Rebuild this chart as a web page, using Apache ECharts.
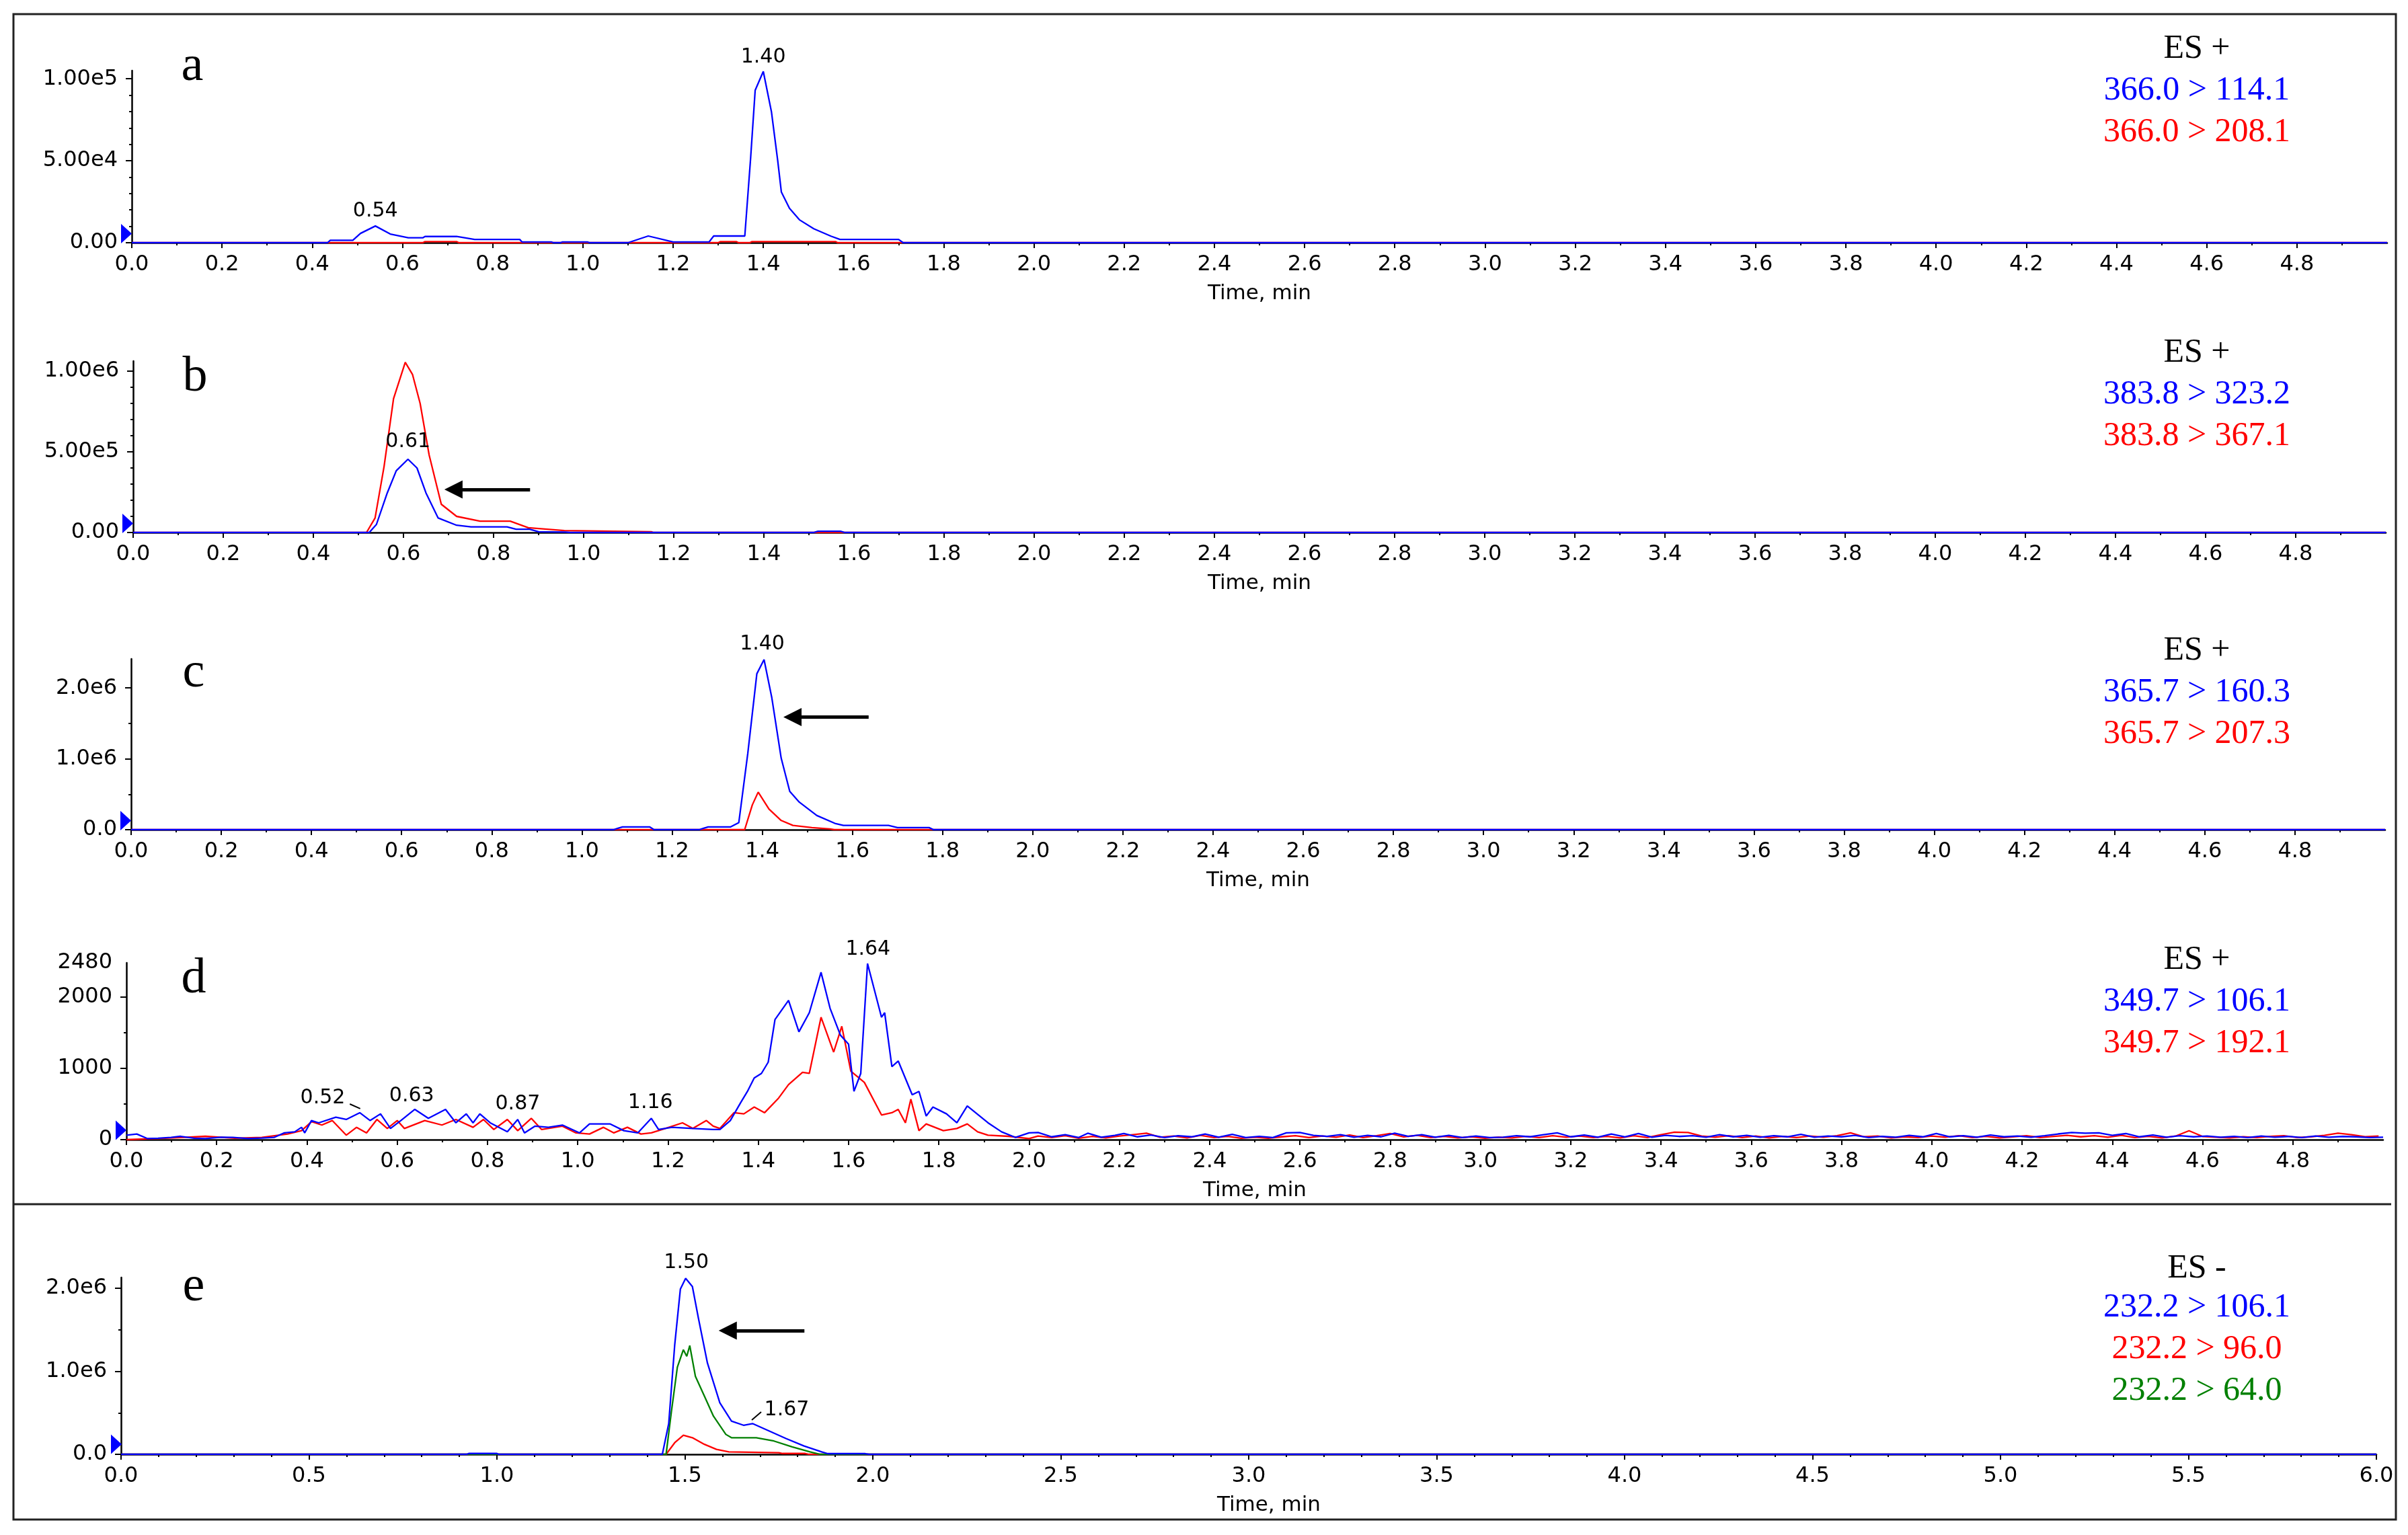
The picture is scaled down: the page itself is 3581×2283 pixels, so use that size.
<!DOCTYPE html>
<html><head><meta charset="utf-8">
<script src="https://cdn.jsdelivr.net/npm/echarts@6/dist/echarts.min.js"></script>
<style>html,body{margin:0;padding:0;background:#fff}#c{width:3581px;height:2283px}</style>
</head><body><div id="c"></div>
<script>
// ---------------- DATA ----------------
const BLUE = '#0000ff', RED = '#ff0000', GREEN = '#008000';

// Panel a : 366.0 > 114.1 (blue), 366.0 > 208.1 (red)
const aBlue = [[0,0],[0.434,0],[0.44,1500],[0.49,1500],[0.507,5700],[0.54,10200],[0.573,5300],[0.613,3000],[0.645,3000],[0.65,3800],[0.72,3800],[0.76,2000],[0.86,2000],[0.865,500],[0.93,500],[0.935,0],[0.95,0],[0.955,500],[1.01,500],[1.015,0],[1.10,0],[1.145,4100],[1.20,500],[1.28,500],[1.29,4100],[1.359,4100],[1.372,52000],[1.382,93000],[1.40,104500],[1.418,80000],[1.432,50000],[1.44,31000],[1.458,21000],[1.48,14000],[1.512,8500],[1.55,4000],[1.57,2000],[1.70,2000],[1.71,0],[5.0,0]];
const aRed = [[0,0],[0.645,0],[0.65,700],[0.72,700],[0.725,0],[1.30,0],[1.305,700],[1.34,700],[1.345,0],[1.37,0],[1.375,700],[1.56,700],[1.565,0],[5.0,0]];

// Panel b : 383.8 > 323.2 (blue), 383.8 > 367.1 (red)
const bBlue = [[0,0],[0.524,0],[0.54,50000],[0.564,245000],[0.584,383000],[0.61,454000],[0.63,400000],[0.65,245000],[0.677,90000],[0.718,45000],[0.75,35000],[0.83,35000],[0.85,20000],[0.88,20000],[0.90,5000],[0.96,3000],[0.97,0],[1.51,0],[1.52,8000],[1.57,8000],[1.58,0],[5.0,0]];
const bRed = [[0,0],[0.518,0],[0.537,90000],[0.557,410000],[0.578,830000],[0.604,1055000],[0.62,980000],[0.637,800000],[0.657,480000],[0.684,175000],[0.718,100000],[0.77,70000],[0.837,70000],[0.877,30000],[0.957,12000],[1.15,5000],[1.155,0],[5.0,0]];

// Panel c : 365.7 > 160.3 (blue), 365.7 > 207.3 (red)
const cBlue = [[0,0],[1.07,0],[1.08,20000],[1.09,40000],[1.15,40000],[1.16,0],[1.26,0],[1.27,20000],[1.28,40000],[1.33,40000],[1.348,100000],[1.368,1080000],[1.388,2200000],[1.404,2400000],[1.421,1870000],[1.442,1010000],[1.461,540000],[1.482,390000],[1.521,200000],[1.561,90000],[1.58,60000],[1.68,60000],[1.70,30000],[1.77,30000],[1.78,0],[5.0,0]];
const cRed = [[0,0],[1.361,0],[1.378,350000],[1.391,530000],[1.415,290000],[1.442,130000],[1.468,60000],[1.51,30000],[1.55,10000],[1.56,0],[5.0,0]];

// Panel d : 349.7 > 106.1 (blue), 349.7 > 192.1 (red)
const dBlue = [[0,63],[0.023,79],[0.046,16],[0.07,20],[0.099,31],[0.12,47],[0.15,20],[0.175,16],[0.21,35],[0.236,31],[0.27,15],[0.30,22],[0.327,31],[0.35,95],[0.373,110],[0.388,173],[0.395,95],[0.41,268],[0.426,236],[0.464,315],[0.487,283],[0.517,378],[0.54,268],[0.563,362],[0.585,157],[0.608,268],[0.639,425],[0.669,299],[0.707,425],[0.73,236],[0.753,362],[0.768,236],[0.783,362],[0.806,236],[0.844,110],[0.867,283],[0.882,95],[0.905,189],[0.935,173],[0.966,205],[1.004,95],[1.026,220],[1.072,220],[1.102,126],[1.133,95],[1.163,299],[1.179,142],[1.209,173],[1.255,157],[1.30,142],[1.315,142],[1.338,268],[1.361,520],[1.376,677],[1.391,866],[1.407,929],[1.422,1087],[1.437,1685],[1.467,1953],[1.49,1512],[1.513,1780],[1.539,2347],[1.559,1843],[1.582,1465],[1.60,1339],[1.612,677],[1.627,929],[1.642,2470],[1.673,1717],[1.68,1780],[1.696,1024],[1.71,1103],[1.741,630],[1.756,677],[1.772,331],[1.787,457],[1.817,362],[1.84,236],[1.863,472],[1.909,236],[1.939,110],[1.97,31],[2.0,95],
[2.02,100],[2.05,40],[2.08,70],[2.11,30],[2.13,90],[2.16,35],[2.19,60],[2.21,85],[2.24,40],[2.27,65],[2.30,30],[2.33,55],[2.36,40],[2.39,80],[2.42,35],[2.45,75],[2.48,30],[2.51,45],[2.54,30],[2.57,95],[2.60,100],[2.63,60],[2.66,45],[2.69,70],[2.72,35],[2.75,60],[2.78,40],[2.81,90],[2.84,45],[2.87,70],[2.90,35],[2.93,60],[2.96,30],[2.99,50],[3.02,30],[3.05,35],[3.08,55],[3.11,40],[3.14,70],[3.17,95],[3.20,40],[3.23,65],[3.26,35],[3.29,80],[3.32,40],[3.35,85],[3.38,35],[3.41,60],[3.44,45],[3.47,55],[3.50,35],[3.53,70],[3.56,40],[3.59,60],[3.62,35],[3.65,55],[3.68,40],[3.71,75],[3.74,35],[3.77,50],[3.80,40],[3.83,60],[3.86,30],[3.89,45],[3.92,35],[3.95,60],[3.98,40],[4.01,85],[4.04,40],[4.07,55],[4.10,35],[4.13,65],[4.16,40],[4.19,50],[4.22,35],[4.25,55],[4.28,80],[4.31,100],[4.34,90],[4.37,95],[4.40,60],[4.43,85],[4.46,40],[4.49,65],[4.52,35],[4.55,55],[4.58,40],[4.61,50],[4.64,35],[4.67,45],[4.70,30],[4.73,50],[4.76,35],[4.79,45],[4.82,30],[4.85,50],[4.88,35],[4.91,45],[4.94,40],[4.97,30],[5.0,35]];
const dRed = [[0,0],[0.068,16],[0.12,30],[0.175,47],[0.24,20],[0.30,31],[0.357,79],[0.388,126],[0.41,252],[0.433,205],[0.456,268],[0.487,63],[0.51,173],[0.532,95],[0.555,283],[0.578,157],[0.60,268],[0.616,157],[0.661,268],[0.699,205],[0.73,283],[0.768,173],[0.791,283],[0.814,142],[0.844,283],[0.867,126],[0.897,299],[0.92,142],[0.966,189],[0.996,95],[1.026,79],[1.057,173],[1.08,95],[1.11,173],[1.14,79],[1.163,95],[1.194,157],[1.232,236],[1.255,157],[1.285,268],[1.30,189],[1.315,157],[1.346,378],[1.368,362],[1.391,457],[1.414,378],[1.445,583],[1.467,772],[1.498,945],[1.513,929],[1.539,1717],[1.567,1228],[1.585,1590],[1.605,961],[1.635,803],[1.673,346],[1.696,378],[1.71,425],[1.726,236],[1.738,567],[1.756,126],[1.772,220],[1.81,126],[1.84,157],[1.863,220],[1.886,110],[1.909,63],[1.954,47],[2.0,16],
[2.02,50],[2.05,30],[2.08,55],[2.11,20],[2.14,45],[2.17,25],[2.20,50],[2.23,70],[2.26,90],[2.29,35],[2.32,50],[2.35,25],[2.38,60],[2.41,30],[2.44,45],[2.47,20],[2.50,35],[2.53,20],[2.56,40],[2.59,55],[2.62,30],[2.65,50],[2.68,35],[2.71,65],[2.74,30],[2.77,55],[2.80,85],[2.83,40],[2.86,60],[2.89,30],[2.92,45],[2.95,25],[2.98,40],[3.01,20],[3.04,35],[3.07,25],[3.10,45],[3.13,30],[3.16,55],[3.19,35],[3.22,50],[3.25,30],[3.28,45],[3.31,25],[3.34,55],[3.37,30],[3.40,70],[3.43,105],[3.46,100],[3.49,50],[3.52,35],[3.55,55],[3.58,30],[3.61,50],[3.64,25],[3.67,45],[3.70,30],[3.73,50],[3.76,35],[3.79,55],[3.82,95],[3.85,40],[3.88,50],[3.91,25],[3.94,40],[3.97,30],[4.00,50],[4.03,35],[4.06,55],[4.09,30],[4.12,45],[4.15,25],[4.18,40],[4.21,55],[4.24,30],[4.27,45],[4.30,60],[4.33,40],[4.36,55],[4.39,35],[4.42,60],[4.45,30],[4.48,45],[4.51,25],[4.54,50],[4.57,125],[4.60,45],[4.63,35],[4.66,25],[4.69,40],[4.72,30],[4.75,45],[4.78,55],[4.81,30],[4.84,40],[4.87,60],[4.90,90],[4.93,70],[4.96,40],[4.99,50]];

// Panel e : 232.2 > 106.1 (blue), 232.2 > 96.0 (red), 232.2 > 64.0 (green)
const eBlue = [[0,0],[0.92,0],[0.925,10000],[1.0,10000],[1.005,0],[1.44,0],[1.457,370000],[1.473,1320000],[1.488,1990000],[1.502,2120000],[1.52,2020000],[1.536,1640000],[1.56,1100000],[1.593,620000],[1.624,400000],[1.656,350000],[1.68,370000],[1.72,290000],[1.769,190000],[1.817,100000],[1.864,30000],[1.88,8000],[1.98,8000],[1.99,0],[6.0,0]];
const eGreen = [[0,0],[1.45,0],[1.464,510000],[1.48,1050000],[1.496,1260000],[1.505,1180000],[1.513,1310000],[1.528,940000],[1.552,700000],[1.576,460000],[1.609,240000],[1.624,200000],[1.69,200000],[1.737,160000],[1.785,90000],[1.833,30000],[1.86,0],[6.0,0]];
const eRed = [[0,0],[1.45,0],[1.473,140000],[1.496,230000],[1.52,200000],[1.552,120000],[1.584,60000],[1.617,30000],[1.75,20000],[1.76,10000],[1.82,10000],[1.83,0],[6.0,0]];

// Tick labels
const xTicks5 = [0,0.2,0.4,0.6,0.8,1.0,1.2,1.4,1.6,1.8,2.0,2.2,2.4,2.6,2.8,3.0,3.2,3.4,3.6,3.8,4.0,4.2,4.4,4.6,4.8];
const xTicks6 = [0,0.5,1.0,1.5,2.0,2.5,3.0,3.5,4.0,4.5,5.0,5.5,6.0];
const aYTicks = [[0,'0.00'],[50000,'5.00e4'],[100000,'1.00e5']];
const bYTicks = [[0,'0.00'],[500000,'5.00e5'],[1000000,'1.00e6']];
const cYTicks = [[0,'0.0'],[1000000,'1.0e6'],[2000000,'2.0e6']];
const dYTicks = [[0,'0'],[1000,'1000'],[2000,'2000'],[2480,'2480']];
const eYTicks = [[0,'0.0'],[1000000,'1.0e6'],[2000000,'2.0e6']];

// Peak annotations: [time, intensity, text]
const aPeaks = [[1.40,105000,'1.40'],[0.54,10000,'0.54']];
const bPeaks = [[0.61,562500,'0.61']];
const cPeaks = [[1.40,2410000,'1.40']];
const dPeaks = [[1.643,2480,'1.64'],[0.435,585,'0.52'],[0.632,613,'0.63'],[0.867,500,'0.87'],[1.161,519,'1.16']];
const ePeaks = [[1.504,2130000,'1.50'],[1.771,534000,'1.67']];

// Channel legends
const aLegend = ['ES +','366.0 > 114.1','366.0 > 208.1'];
const bLegend = ['ES +','383.8 > 323.2','383.8 > 367.1'];
const cLegend = ['ES +','365.7 > 160.3','365.7 > 207.3'];
const dLegend = ['ES +','349.7 > 106.1','349.7 > 192.1'];
const eLegend = ['ES -','232.2 > 106.1','232.2 > 96.0','232.2 > 64.0'];

// ---------------- BUILD ----------------
function range(a, b, step, skipEvery) {
  const out = [];
  for (let k = 0; a + k * step <= b + 1e-9; k++) {
    if (skipEvery && k % skipEvery === 0) continue;
    out.push(+(a + k * step).toFixed(6));
  }
  return out;
}

const panels = [
  {letter:'a', left:196, top:105, width:3354, height:256, xMax:5, xTicks:xTicks5, xMinor:range(0,4.9,0.1,2),
   yMax:105000, yTicks:aYTicks, yMinor:range(0,90000,10000,5), series:[[aRed,RED],[aBlue,BLUE]], peaks:aPeaks,
   peakOff:[[0,-20],[0,-22]], legend:aLegend, legendColors:['#000',BLUE,RED], legendY:[73,135,197], letterPos:[286,100],
   tri:[-8,-13.5], arrow:null, nameShift:0},
  {letter:'b', left:198, top:537, width:3350, height:255, xMax:5, xTicks:xTicks5, xMinor:range(0,4.9,0.1,2),
   yMax:1062500, yTicks:bYTicks, yMinor:range(0,900000,100000,5), series:[[bRed,RED],[bBlue,BLUE]], peaks:bPeaks,
   peakOff:[[0,0]], legend:bLegend, legendColors:['#000',BLUE,RED], legendY:[525,587,649], letterPos:[290,562],
   tri:[-8,-13.5], arrow:[0.881,0.711,267000], nameShift:0},
  {letter:'c', left:195, top:980, width:3352, height:254, xMax:5, xTicks:xTicks5, xMinor:range(0,4.9,0.1,2),
   yMax:2410000, yTicks:cYTicks, yMinor:[500000,1500000], series:[[cRed,RED],[cBlue,BLUE]], peaks:cPeaks,
   peakOff:[[0,-22]], legend:cLegend, legendColors:['#000',BLUE,RED], legendY:[968,1030,1092], letterPos:[288,1002],
   tri:[-8,-13.5], arrow:[1.636,1.467,1590000], nameShift:0},
  {letter:'d', left:188, top:1432, width:3356, height:263, xMax:5, xTicks:xTicks5, xMinor:range(0,4.9,0.1,2),
   yMax:2480, yTicks:dYTicks, yMinor:[500,1500], series:[[dRed,RED],[dBlue,BLUE]], peaks:dPeaks,
   peakOff:[[0,-20],[0,0],[0,0],[0,0],[0,0]], legend:dLegend, legendColors:['#000',BLUE,RED], legendY:[1428,1490,1552], letterPos:[288,1457],
   tri:[-8,-14], arrow:null, leader:[[0.495,500],[0.518,435]], nameShift:0},
  {letter:'e', left:180, top:1900, width:3354, height:263, xMax:6, xTicks:xTicks6, xMinor:range(0,6,0.1,5),
   yMax:2130000, yTicks:eYTicks, yMinor:[500000,1500000], series:[[eRed,RED],[eGreen,GREEN],[eBlue,BLUE]], peaks:ePeaks,
   peakOff:[[0,-22],[0,0]], legend:eLegend, legendColors:['#000',BLUE,RED,GREEN], legendY:[1887,1945,2007,2069], letterPos:[288,1915],
   tri:[-7,-15], arrow:[1.818,1.614,1490000], leader:[[1.678,413000],[1.703,510000]], nameShift:60}
];

const grids = [], xAxes = [], yAxes = [], series = [], graphics = [];
const tickFont = 'DejaVu Sans';

panels.forEach((p, i) => {
  grids.push({left:p.left, top:p.top, width:p.width, height:p.height});
  const yMap = {}; p.yTicks.forEach(t => yMap[t[0]] = t[1]);
  const yMajorTickVals = p.yTicks.map(t => t[0]).filter(v => v < p.yMax);
  // main x axis
  xAxes.push({type:'value', gridIndex:i, min:0, max:p.xMax, position:'bottom',
    axisLine:{show:true, onZero:false, lineStyle:{color:'#000', width:2.5}},
    axisTick:{show:true, customValues:p.xTicks, length:8, lineStyle:{color:'#000', width:2}},
    axisLabel:{show:true, customValues:p.xTicks, formatter:v => v.toFixed(1), margin:17, color:'#000', fontFamily:tickFont, fontSize:32},
    splitLine:{show:false},
    name:'Time, min', nameLocation:'middle', nameGap:60,
    nameTextStyle:{color:'#000', fontFamily:tickFont, fontSize:31, padding:[0,0,0,p.nameShift]}});
  // minor x ticks
  xAxes.push({type:'value', gridIndex:i, min:0, max:p.xMax, position:'bottom',
    axisLine:{show:false, onZero:false},
    axisTick:{show:true, customValues:p.xMinor, length:4, lineStyle:{color:'#000', width:2}},
    axisLabel:{show:false}, splitLine:{show:false}});
  yAxes.push({type:'value', gridIndex:i, min:0, max:p.yMax, position:'left',
    axisLine:{show:true, onZero:false, lineStyle:{color:'#000', width:2.5}},
    axisTick:{show:true, customValues:yMajorTickVals, length:9, lineStyle:{color:'#000', width:2}},
    axisLabel:{show:true, customValues:p.yTicks.map(t => t[0]), formatter:v => (yMap[v] !== undefined ? yMap[v] : ''), margin:21, color:'#000', fontFamily:tickFont, fontSize:32},
    splitLine:{show:false}});
  yAxes.push({type:'value', gridIndex:i, min:0, max:p.yMax, position:'left',
    axisLine:{show:false, onZero:false},
    axisTick:{show:true, customValues:p.yMinor, length:4, lineStyle:{color:'#000', width:2}},
    axisLabel:{show:false}, splitLine:{show:false}});

  p.series.forEach((s, si) => {
    const isLast = si === p.series.length - 1;
    const ser = {type:'line', xAxisIndex:2*i, yAxisIndex:2*i, data:s[0], showSymbol:false, symbol:'none',
      lineStyle:{color:s[1], width:2.3}, itemStyle:{color:s[1]}, animation:false, silent:true, z:2+si};
    if (isLast) {
      const mp = p.peaks.map((pk, k) => ({coord:[pk[0], pk[1]],
        label:{show:true, formatter:pk[2], offset:p.peakOff[k], position:'inside', color:'#000', fontFamily:tickFont, fontSize:30}}));
      mp.push({coord:[0,0], symbol:'path://M0 0L16 14.5L0 29Z', symbolSize:[16,29], symbolOffset:p.tri,
        itemStyle:{color:BLUE}, label:{show:false}});
      ser.markPoint = {silent:true, animation:false, symbol:'rect', symbolSize:1,
        itemStyle:{color:'rgba(0,0,0,0)'}, data:mp};
      if (p.arrow) {
        ser.markLine = {silent:true, animation:false, symbol:['none','triangle'], symbolSize:[27,27],
          label:{show:false}, lineStyle:{color:'#000', width:5, type:'solid'},
          data:[[{coord:[p.arrow[0], p.arrow[2]]},{coord:[p.arrow[1], p.arrow[2]]}]]};
      }
    }
    if (si === 0 && p.leader) {
      ser.markLine = {silent:true, animation:false, symbol:['none','none'], label:{show:false},
        lineStyle:{color:'#000', width:2, type:'solid'},
        data:[[{coord:p.leader[0]},{coord:p.leader[1]}]]};
    }
    series.push(ser);
  });

  graphics.push({type:'text', x:p.letterPos[0], y:p.letterPos[1], silent:true,
    style:{text:p.letter, fill:'#000', font:'normal 74px "Liberation Serif"', align:'center', verticalAlign:'middle', textAlign:'center', textVerticalAlign:'middle'}});
  p.legend.forEach((t, k) => {
    graphics.push({type:'text', x:3267, y:p.legendY[k], silent:true,
      style:{text:t, fill:p.legendColors[k], font:'normal 50px "Liberation Serif"', align:'center', verticalAlign:'middle', textAlign:'center', textVerticalAlign:'middle'}});
  });
});

graphics.push({type:'rect', silent:true, shape:{x:20, y:21, width:3543, height:2239},
  style:{fill:'none', stroke:'#222', lineWidth:3}});
graphics.push({type:'line', silent:true, shape:{x1:20, y1:1791, x2:3556, y2:1791},
  style:{stroke:'#222', lineWidth:3}});

const chart = echarts.init(document.getElementById('c'), null, {renderer:'canvas', width:3581, height:2283});
chart.setOption({
  animation:false,
  backgroundColor:'#fff',
  grid:grids, xAxis:xAxes, yAxis:yAxes, series:series, graphic:graphics
});
</script></body></html>
